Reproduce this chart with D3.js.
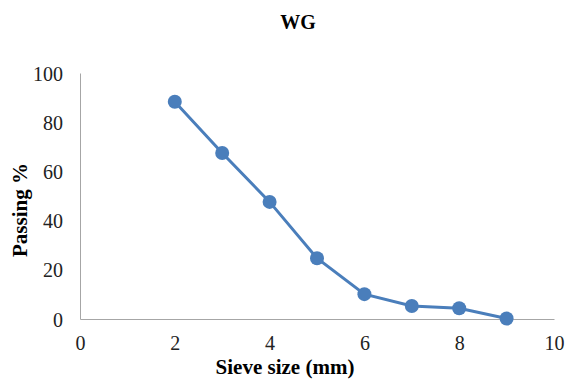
<!DOCTYPE html>
<html>
<head>
<meta charset="utf-8">
<script src="https://cdn.jsdelivr.net/npm/d3@7"></script>
<style>
  body { margin: 0; background: #fff; }
  text { font-family: "Liberation Serif", "Times New Roman", serif; }
</style>
</head>
<body>
<div id="chart"></div>
<script>
// Sieve analysis data
const sieveSizes = [2, 3, 4, 5, 6, 7, 8, 9];
const passing = [88.3, 67.5, 47.6, 24.7, 10.1, 5.3, 4.4, 0.2];
const xTicks = [0, 2, 4, 6, 8, 10];
const yTicks = [0, 20, 40, 60, 80, 100];

const width = 568;
const height = 379;
const margin = { top: 73, right: 14, bottom: 60, left: 80 };

const svg = d3.select("#chart")
    .append("svg")
    .attr("width", width)
    .attr("height", height);

const x = d3.scaleLinear()
    .domain([0, 10])
    .range([margin.left, width - margin.right]);

const y = d3.scaleLinear()
    .domain([0, 100])
    .range([height - margin.bottom, margin.top]);

// Axes (no tick marks, just the lines and labels)
const xAxis = svg.append("g")
    .attr("transform", `translate(0,${y(0)})`)
    .call(d3.axisBottom(x).tickValues(xTicks).tickSize(0).tickPadding(17));

const yAxis = svg.append("g")
    .attr("transform", `translate(${x(0)},0)`)
    .call(d3.axisLeft(y).tickValues(yTicks).tickSize(0).tickPadding(17));

[xAxis, yAxis].forEach(g => {
    g.attr("font-family", '"Liberation Serif", serif').attr("font-size", 20);
    g.select(".domain").attr("stroke", "#a6a6a6").attr("stroke-width", 1);
    g.selectAll("text").attr("fill", "#222");
});
yAxis.selectAll("text").attr("dy", "0.35em");

// Line
const points = sieveSizes.map((s, i) => ({ s, p: passing[i] }));

svg.append("path")
    .datum(points)
    .attr("fill", "none")
    .attr("stroke", "#4a7ebb")
    .attr("stroke-width", 3)
    .attr("d", d3.line().x(d => x(d.s)).y(d => y(d.p)));

svg.selectAll(".dot")
    .data(points)
    .enter()
    .append("circle")
    .attr("class", "dot")
    .attr("cx", d => x(d.s))
    .attr("cy", d => y(d.p))
    .attr("r", 7)
    .attr("fill", "#4a7ebb");

// Titles
svg.append("text")
    .attr("x", 298)
    .attr("y", 29)
    .attr("text-anchor", "middle")
    .attr("font-size", 20)
    .attr("font-weight", "bold")
    .text("WG");

svg.append("text")
    .attr("x", 285)
    .attr("y", 374)
    .attr("text-anchor", "middle")
    .attr("font-size", 21)
    .attr("font-weight", "bold")
    .text("Sieve size (mm)");

svg.append("text")
    .attr("transform", "translate(27,210) rotate(-90)")
    .attr("text-anchor", "middle")
    .attr("font-size", 21)
    .attr("font-weight", "bold")
    .text("Passing %");
</script>
</body>
</html>
